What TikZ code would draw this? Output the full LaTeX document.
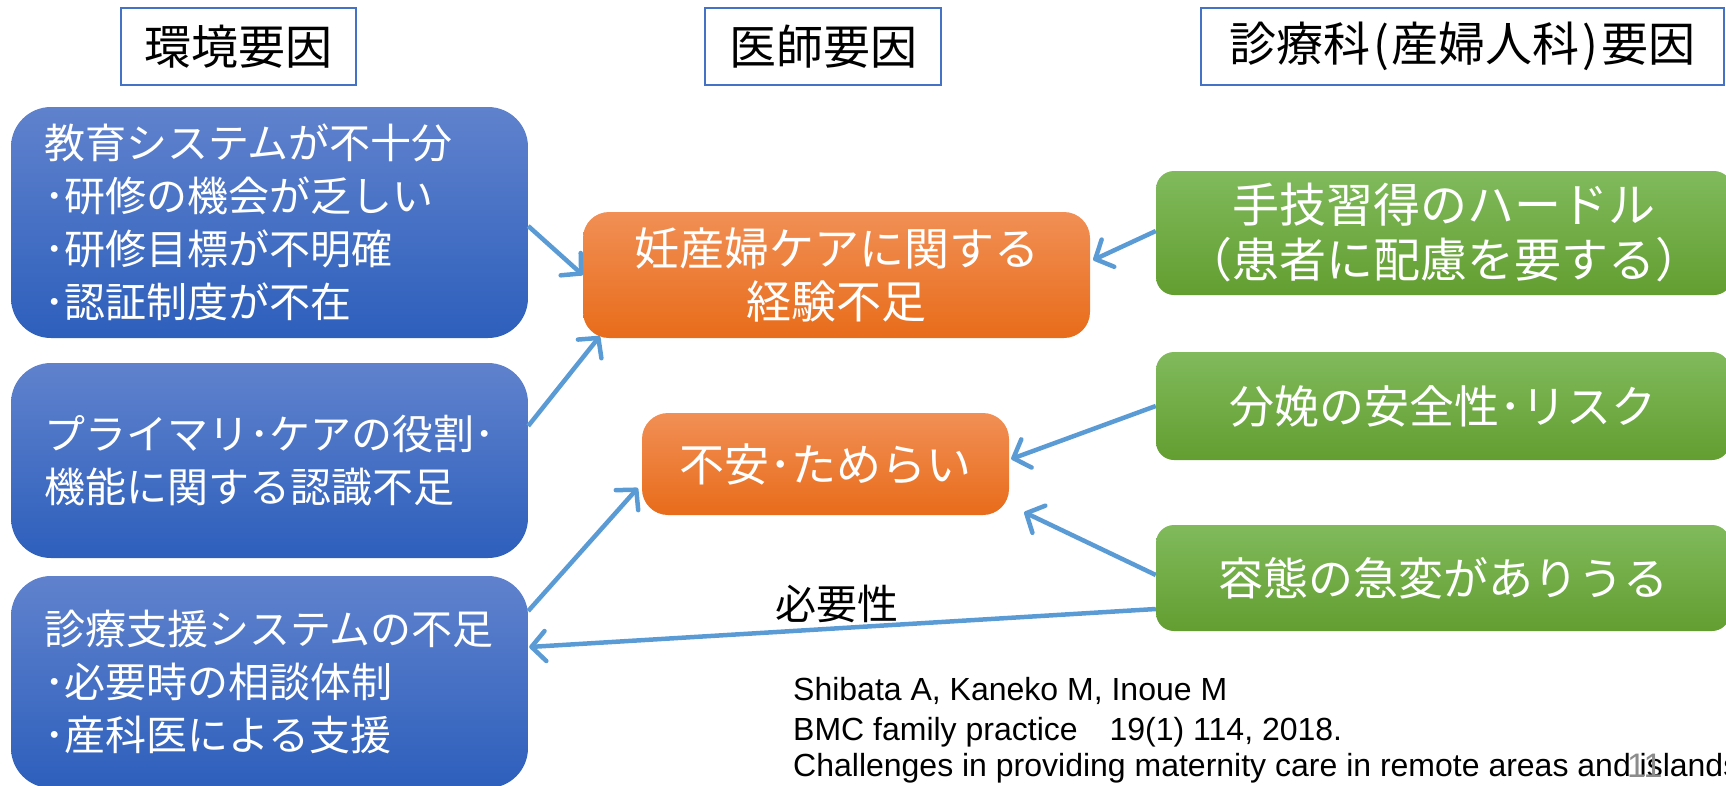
\documentclass[tikz,border=0pt]{standalone}
\usepackage{fontspec}
\setmainfont{Liberation Sans}
\newfontfamily\jp{Noto Sans CJK JP}
\usetikzlibrary{arrows.meta}
\definecolor{bluetop}{RGB}{96,130,205}
\definecolor{bluebot}{RGB}{45,95,188}
\definecolor{orgtop}{RGB}{241,143,85}
\definecolor{orgbot}{RGB}{232,108,26}
\definecolor{grntop}{RGB}{128,186,92}
\definecolor{grnbot}{RGB}{98,158,48}
\definecolor{arrowc}{RGB}{91,155,213}
\definecolor{hdrc}{RGB}{68,114,196}
\begin{document}
\begin{tikzpicture}[x=1pt,y=-1pt,
  hdrbox/.style={draw=hdrc, line width=2pt, fill=white, minimum height=77pt, inner sep=0pt, font=\jp\fontsize{47}{53}\selectfont, text=black},
  bluebox/.style={rounded corners=40pt, top color=bluetop, bottom color=bluebot, draw=none, text=white,
     font=\jp\fontsize{41}{53}\selectfont, align=left, inner xsep=33pt, text width=451pt, minimum width=517pt},
  orgbox/.style={rounded corners=26pt, top color=orgtop, bottom color=orgbot, draw=none, text=white,
     font=\jp\fontsize{45}{53}\selectfont, align=center, inner sep=0pt},
  grnbox/.style={rounded corners=18pt, top color=grntop, bottom color=grnbot, draw=none, text=white,
     font=\jp\fontsize{45}{55}\selectfont, align=center, inner sep=0pt, minimum width=574pt},
  conn/.style={draw=arrowc, line width=4.5pt, -{Straight Barb[length=14pt,width=30pt,round]}},
  cite/.style={anchor=base west, inner sep=0pt, font=\fontsize{32}{38}\selectfont}
]
\useasboundingbox (0,0) rectangle (1726,785);
\clip (0,0) rectangle (1726,785);

% headers
\node[hdrbox, minimum width=235pt] (h1) at (238.5,46.5) {環境要因};
\node[hdrbox, minimum width=236pt] (h2) at (823,46.5) {医師要因};
\node[hdrbox, minimum width=523pt] (h3) at (1462.5,46.5) {診療科\hspace{0.06em}(\hspace{0.06em}産婦人科\hspace{0.06em})\hspace{0.06em}要因};

% blue boxes
\node[bluebox, minimum height=231pt] (b1) at (269.5,222.5) {教育システムが不十分\\･研修の機会が乏しい\\･研修目標が不明確\\･認証制度が不在};
\node[bluebox, minimum height=195pt] (b2) at (269.5,460.5) {プライマリ･ケアの役割･\\機能に関する認識不足};
\node[bluebox, minimum height=212pt] (b3) at (269.5,682) {診療支援システムの不足\\･必要時の相談体制\\･産科医による支援};

% orange boxes
\node[orgbox, minimum width=507pt, minimum height=126pt] (o1) at (836.5,275) {妊産婦ケアに関する\\経験不足};
\node[orgbox, minimum width=367pt, minimum height=102pt] (o2) at (825.5,464) {不安･ためらい};

% green boxes
\node[grnbox, minimum width=576pt, minimum height=124pt, font=\jp\fontsize{47}{55}\selectfont] (g1) at (1444,233) {手技習得のハードル\\（患者に配慮を要する）};
\node[grnbox, minimum height=108pt] (g2) at (1443,406) {分娩の安全性･リスク};
\node[grnbox, minimum height=106pt] (g3) at (1443,578) {容態の急変がありうる};

% connectors
\draw[conn] ([yshift=-3.5pt]b1.east) -- (o1.west);
\draw[conn] ([yshift=34.5pt]b2.east) -- ([xshift=17pt,yshift=2pt]o1.south west);
\draw[conn] ([yshift=71pt]b3.east) -- ([xshift=-4pt,yshift=-24pt]o2.west);
\draw[conn] ([yshift=2pt]g1.west) -- ([xshift=3pt,yshift=15pt]o1.east);
\draw[conn] (g2.west) -- ([xshift=2pt,yshift=5pt]o2.east);
\draw[conn] ([yshift=3pt]g3.west) -- ([xshift=15pt,yshift=3pt]o2.south east);
\draw[conn] ([yshift=-31pt]g3.west) -- ([xshift=1pt,yshift=35pt]b3.east);

\node[font=\jp\fontsize{41}{45}\selectfont, inner sep=0pt] (need) at (837,604) {必要性};

% citation
\node[cite] (c1) at (793,700) {Shibata A, Kaneko M, Inoue M};
\node[cite] (c2) at (793,740) {BMC family practice\hspace{1em}19(1) 114, 2018.};
\node[cite] (c3) at (793,776) {Challenges in providing maternity care in remote areas and islands};
\node[cite, text=black!45, font=\fontsize{34}{38}\selectfont] (pg) at (1627,777) {11};
\end{tikzpicture}
\end{document}
